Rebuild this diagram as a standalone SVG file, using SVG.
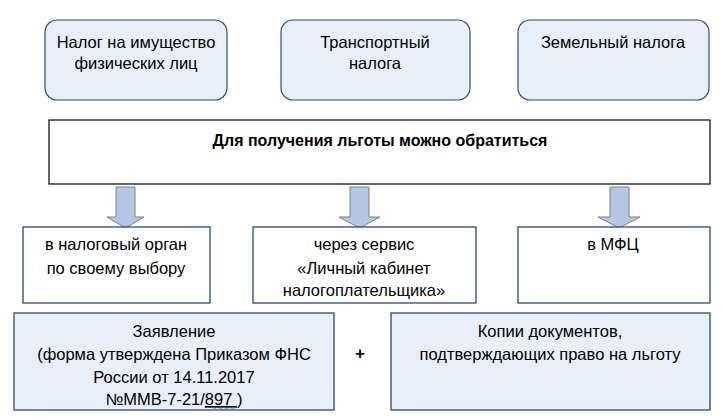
<svg xmlns="http://www.w3.org/2000/svg" width="722" height="420" viewBox="0 0 722 420">
<style>
text{font-family:"Liberation Sans",Arial,sans-serif;font-size:16.5px;fill:#000;text-anchor:middle}
.tax{fill:#e9eff9;stroke:#2f4b7c;stroke-width:1.2}
.way{fill:#fff;stroke:#1f3864;stroke-width:1.2}
.main{fill:#fff;stroke:#000;stroke-width:1.2}
.doc{fill:#e9eff9;stroke:#1f3864;stroke-width:1.2}
.arr{fill:#b4c7e7;stroke:#808080;stroke-width:1}
.b{font-weight:bold;font-size:16px}
</style>
<rect width="722" height="420" fill="#fff"/>
<g id="tax1"><rect class="tax" x="45" y="20" width="182" height="80" rx="12"/><text x="136" y="48">Налог на имущество</text><text x="136" y="69">физических лиц</text></g>
<g id="tax2"><rect class="tax" x="281" y="20" width="189" height="80" rx="12"/><text x="375" y="48">Транспортный</text><text x="375" y="69">налога</text></g>
<g id="tax3"><rect class="tax" x="518" y="20" width="191" height="80" rx="12"/><text x="613" y="48">Земельный налога</text></g>
<g id="main"><rect class="main" x="49" y="120" width="661" height="64"/><text class="b" x="380" y="146">Для получения льготы можно обратиться</text></g>
<g id="connectors">
<path class="arr" d="M116,187 H135 V217 H144 L125.5,228 L107,217 H116 Z"/>
<path class="arr" d="M350,187 H369 V217 H380 L359.5,228 L339,217 H350 Z"/>
<path class="arr" d="M610,187 H629 V217 H640 L619,228 L598,217 H610 Z"/>
</g>
<g id="way1"><rect class="way" x="23" y="227" width="187" height="76"/><text x="116" y="250">в налоговый орган</text><text x="116" y="274">по своему выбору</text></g>
<g id="way2"><rect class="way" x="253" y="227" width="223" height="76"/><text x="364" y="250">через сервис</text><text x="364" y="274">«Личный кабинет</text><text x="364" y="296">налогоплательщика»</text></g>
<g id="way3"><rect class="way" x="518" y="227" width="192" height="76"/><text x="613" y="250">в МФЦ</text></g>
<g id="doc1"><rect class="doc" x="14" y="313" width="320" height="97"/><text x="174" y="337">Заявление</text><text x="174" y="360">(форма утверждена Приказом ФНС</text><text x="174" y="383">России от 14.11.2017</text><text x="174" y="405">№ММВ-7-21/<tspan text-decoration="underline">897 </tspan> )</text>
<path d="M213,409 q1.5,-2 3,0 t3,0 t3,0 t3,0 t3,0 t3,0 t3,0 t3,0" fill="none" stroke="#4472c4" stroke-width="0.8"/></g>
<g id="plus"><text class="b" x="360" y="359" style="font-size:17px">+</text></g>
<g id="doc2"><rect class="doc" x="391" y="313" width="319" height="97"/><text x="550" y="337">Копии документов,</text><text x="550" y="360">подтверждающих право на льготу</text></g>
</svg>
